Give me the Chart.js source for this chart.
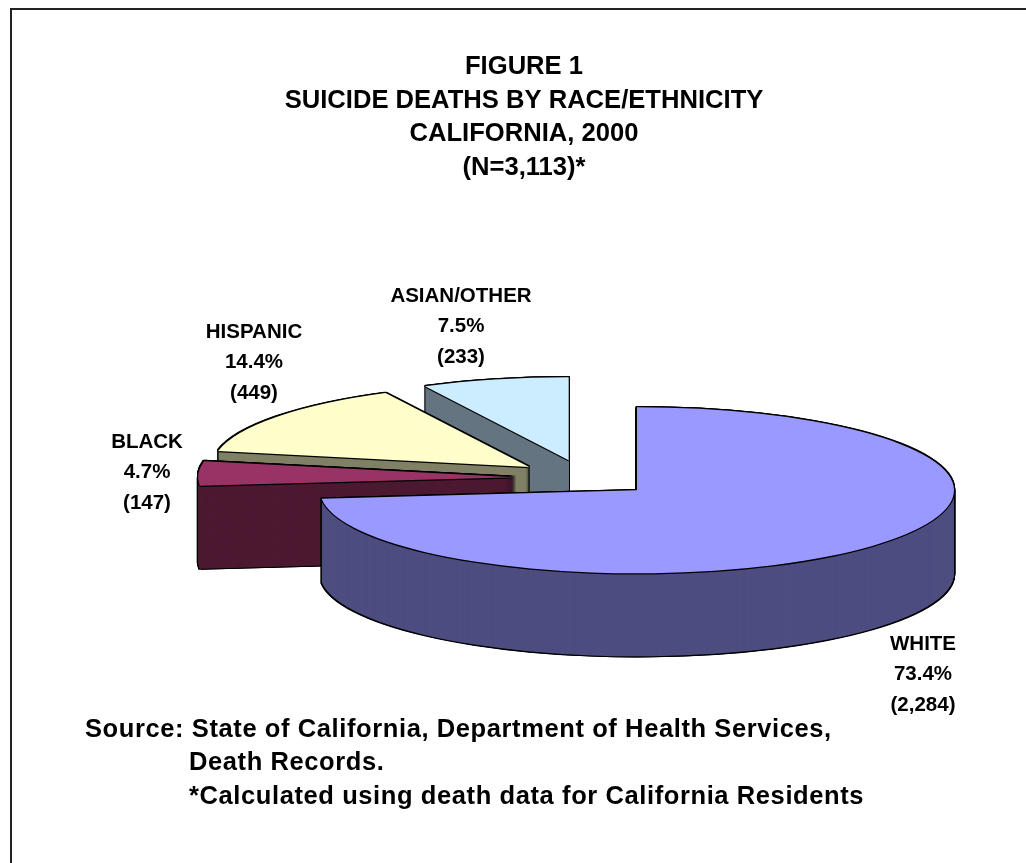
<!DOCTYPE html>
<html>
<head>
<meta charset="utf-8">
<title>Suicide deaths by race/ethnicity</title>
<script src="https://cdn.jsdelivr.net/npm/chart.js@4/dist/chart.umd.min.js"></script>
<style>
   html, body { margin: 0; padding: 0; background: #fff; overflow: hidden; }
   #wrap { position: relative; width: 1026px; height: 863px; }
   #frame { position: absolute; left: 10px; top: 8px; right: 0; bottom: 0; border-left: 2px solid #222; border-top: 2px solid #222; }
   canvas { position: absolute; left: 0; top: 0; }
</style>
</head>
<body>
<div id="wrap">
   <div id="frame"></div>
   <canvas id="pieChart" width="1026" height="863"></canvas>
</div>
<script>
const categories = ["WHITE", "BLACK", "HISPANIC", "ASIAN/OTHER"];
const deaths = [2284, 147, 449, 233];
const percentLabels = ["73.4%", "4.7%", "14.4%", "7.5%"];
const countLabels = ["(2,284)", "(147)", "(449)", "(233)"];
const titleLines = ["FIGURE 1", "SUICIDE DEATHS BY RACE/ETHNICITY", "CALIFORNIA, 2000", "(N=3,113)*"];
const sourceLines = ["Source: State of California, Department of Health Services,", "Death Records.", "*Calculated using death data for California Residents"];

const topColors = ["#9999FF", "#993366", "#FFFFCC", "#CCECFF"];
const sideColors = ["#4D4D80", "#4D1A33", "#808066", "#667680"];

// Where the tilted pie sits on the page
const pieCenter = { x: 585, y: 478 };
const pieRadius = 317;
const tilt = 83 / 317;
const depth = 83;
const explode = 70;
const outline = 1.3;

// Centre x and first line y of each slice label, same order as categories
const labelSpots = [
   { x: 923, y: 644 },
   { x: 147, y: 442 },
   { x: 254, y: 332 },
   { x: 461, y: 296 }
];
const sourceSpots = [{ x: 85, y: 730 }, { x: 189, y: 763 }, { x: 189, y: 797 }];

// Draw one arc element with another colour, shifted dx,dy screen pixels
function stamp(ctx, arc, color, dx, dy) {
   const mid = (arc.startAngle + arc.endAngle) / 2;
   const saved = arc.options;
   arc.options = { ...saved, backgroundColor: color, borderWidth: 0 };
   ctx.save();
   ctx.translate(pieCenter.x + dx, pieCenter.y + dy);
   ctx.scale(1, tilt);
   ctx.translate(Math.cos(mid) * explode - arc.x, Math.sin(mid) * explode - arc.y);
   arc.draw(ctx);
   ctx.restore();
   arc.options = saved;
}

const tiltedPie = {
   id: "tiltedPie",
   beforeDatasetDraw(chart, args) {
      const ctx = chart.ctx;
      const arcs = args.meta.data;
      // back slices first so the white one ends up in front
      for (let i = arcs.length - 1; i >= 0; i--) {
         for (let d = -outline; d <= depth + outline; d += 0.5) {
            stamp(ctx, arcs[i], "#000", -outline, d);
            stamp(ctx, arcs[i], "#000", outline, d);
         }
         // thin slice needs smaller steps, its tip is under a pixel high
         const step = arcs[i].circumference < 0.5 ? 0.34 : 1;
         for (let d = depth; d > 0; d -= step) {
            stamp(ctx, arcs[i], sideColors[i], 0, d);
         }
         stamp(ctx, arcs[i], "#000", 0, -outline);
         stamp(ctx, arcs[i], "#000", 0, outline);
         stamp(ctx, arcs[i], "#000", -outline, 0);
         stamp(ctx, arcs[i], "#000", outline, 0);
         stamp(ctx, arcs[i], topColors[i], 0, 0);
      }
      return false;
   },
   afterDraw(chart) {
      const ctx = chart.ctx;
      ctx.save();
      ctx.fillStyle = "#000";
      ctx.textBaseline = "middle";
      ctx.textAlign = "center";
      ctx.font = "bold 20.5px 'Liberation Sans', Arial, sans-serif";
      categories.forEach((name, i) => {
         const spot = labelSpots[i];
         ctx.fillText(name, spot.x, spot.y);
         ctx.fillText(percentLabels[i], spot.x, spot.y + 30.5);
         ctx.fillText(countLabels[i], spot.x, spot.y + 61);
      });
      ctx.textAlign = "left";
      ctx.font = "bold 25.5px 'Liberation Sans', Arial, sans-serif";
      ctx.letterSpacing = "0.6px";
      sourceLines.forEach((line, i) => {
         ctx.fillText(line, sourceSpots[i].x, sourceSpots[i].y);
      });
      ctx.restore();
   }
};

new Chart(document.getElementById("pieChart"), {
   type: "pie",
   data: {
      labels: categories,
      datasets: [{
         data: deaths,
         backgroundColor: topColors,
         borderWidth: 0,
         clip: false
      }]
   },
   options: {
      responsive: false,
      animation: false,
      radius: pieRadius,
      layout: { padding: { left: 22 } },
      events: [],
      plugins: {
         legend: { display: false },
         tooltip: { enabled: false },
         title: {
            display: true,
            text: titleLines,
            color: "#000",
            padding: { top: 50, bottom: 0 },
            font: { family: "'Liberation Sans', Arial, sans-serif", size: 25.6, weight: "bold", lineHeight: 1.316 }
         }
      }
   },
   plugins: [tiltedPie]
});
</script>
</body>
</html>
